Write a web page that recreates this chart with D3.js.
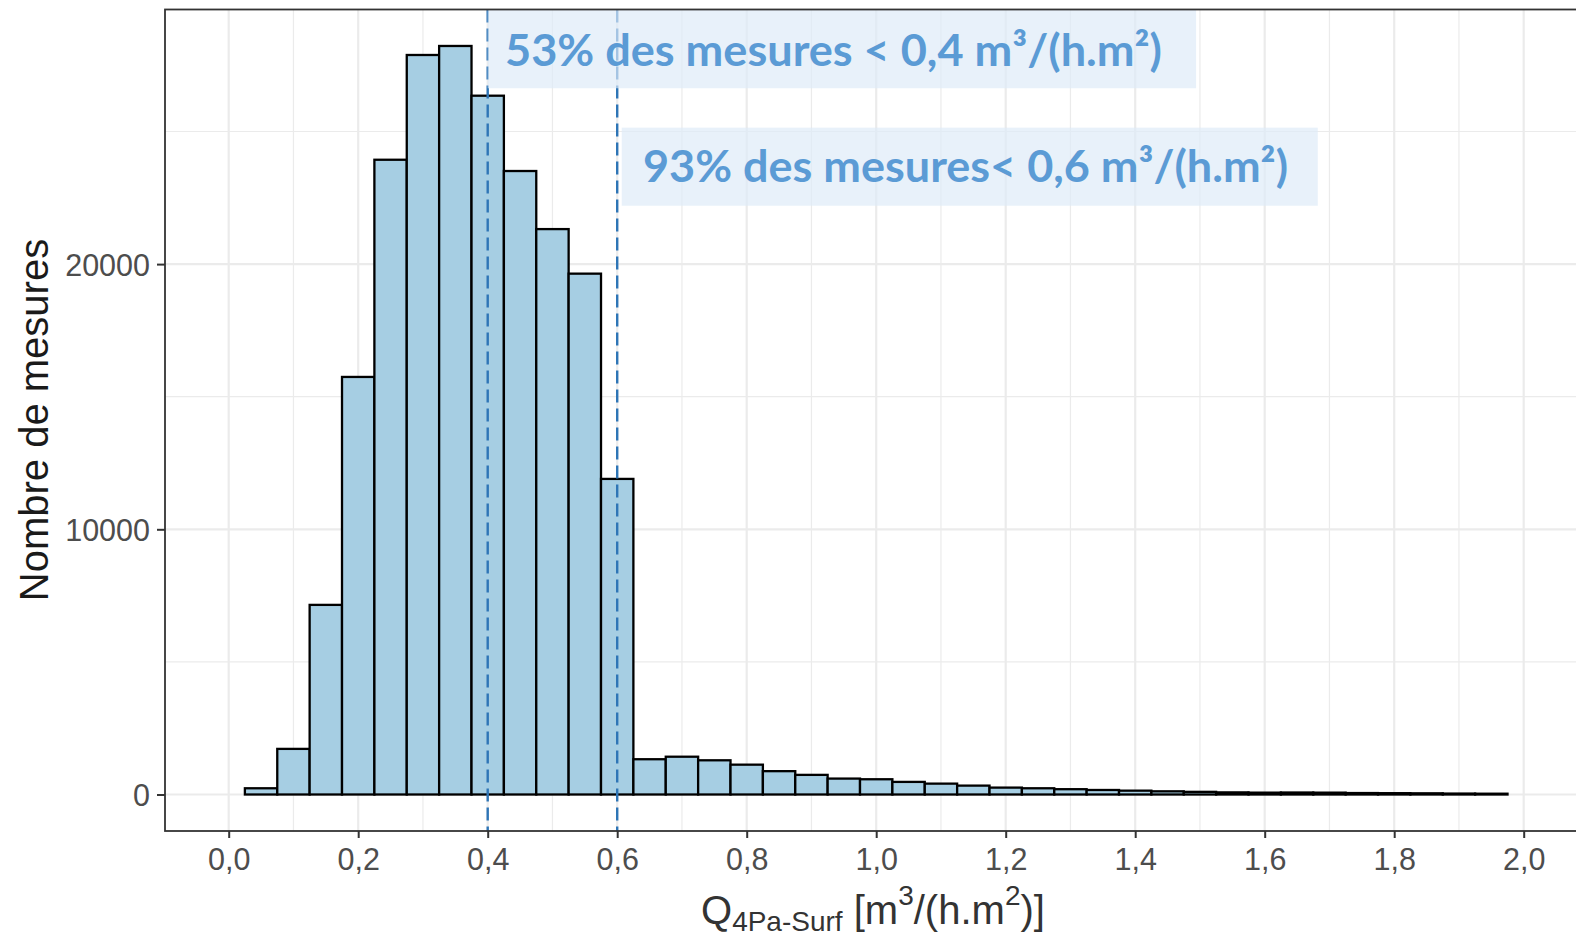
<!DOCTYPE html>
<html>
<head>
<meta charset="utf-8">
<script src="https://cdn.jsdelivr.net/npm/d3@7"></script>
<style>
  body { margin: 0; background: white; }
  svg { display: block; }
</style>
</head>
<body>
<script>
// histogram bins (width 0.05), centres and counts
const binCentres = [
  0.05, 0.1, 0.15, 0.2, 0.25, 0.3, 0.35, 0.4, 0.45, 0.5, 0.55, 0.6, 0.65,
  0.7, 0.75, 0.8, 0.85, 0.9, 0.95, 1.0, 1.05, 1.1, 1.15, 1.2, 1.25, 1.3,
  1.35, 1.4, 1.45, 1.5, 1.55, 1.6, 1.65, 1.7, 1.75, 1.8, 1.85, 1.9, 1.95,
];
const counts = [
  235, 1720, 7150, 15745, 23935, 27885, 28225, 26350, 23510, 21320, 19640,
  11900, 1330, 1425, 1290, 1125, 880, 740, 600, 575, 475, 410, 335, 260,
  235, 200, 170, 145, 120, 100, 80, 70, 75, 70, 55, 50, 45, 35, 30,
];
const binWidth = 0.05;

const xMajor = [0, 0.2, 0.4, 0.6, 0.8, 1.0, 1.2, 1.4, 1.6, 1.8, 2.0];
const xMinor = [0.1, 0.3, 0.5, 0.7, 0.9, 1.1, 1.3, 1.5, 1.7, 1.9];
const yMajor = [0, 10000, 20000];
const yMinor = [5000, 15000, 25000];

const thresholds = [0.4, 0.6];
const notes = [
  { text: '53% des mesures < 0,4 m³/(h.m²)', x0: 0.4, x1: 1.494, y0: 26630, y1: null },
  { text: '93% des mesures< 0,6 m³/(h.m²)', x0: 0.607, x1: 1.682, y0: 22200, y1: 25145 },
];

const w = 1576;
const h = 936;
const panel = { left: 165, right: 1590, top: 9.5, bottom: 831 };

const svg = d3.select('body').append('svg').attr('width', w).attr('height', h);

const x = d3.scaleLinear().domain([0, 2]).range([228.7, 1523.7]);
const y = d3.scaleLinear().domain([0, 20000]).range([794.5, 264.1]);

svg.append('defs').append('clipPath').attr('id', 'clip')
  .append('rect')
  .attr('x', panel.left).attr('y', panel.top)
  .attr('width', panel.right - panel.left)
  .attr('height', panel.bottom - panel.top);

const plot = svg.append('g').attr('clip-path', 'url(#clip)');

// grid
plot.selectAll('.xminor').data(xMinor).enter().append('line')
  .attr('x1', (d) => x(d)).attr('x2', (d) => x(d))
  .attr('y1', panel.top).attr('y2', panel.bottom)
  .attr('stroke', '#ebebeb').attr('stroke-width', 1.2);
plot.selectAll('.yminor').data(yMinor).enter().append('line')
  .attr('x1', panel.left).attr('x2', panel.right)
  .attr('y1', (d) => y(d)).attr('y2', (d) => y(d))
  .attr('stroke', '#ebebeb').attr('stroke-width', 1.2);
plot.selectAll('.xmajor').data(xMajor).enter().append('line')
  .attr('x1', (d) => x(d)).attr('x2', (d) => x(d))
  .attr('y1', panel.top).attr('y2', panel.bottom)
  .attr('stroke', '#ebebeb').attr('stroke-width', 2.2);
plot.selectAll('.ymajor').data(yMajor).enter().append('line')
  .attr('x1', panel.left).attr('x2', panel.right)
  .attr('y1', (d) => y(d)).attr('y2', (d) => y(d))
  .attr('stroke', '#ebebeb').attr('stroke-width', 2.2);

// bars
plot.selectAll('.bar').data(counts).enter().append('rect')
  .attr('class', 'bar')
  .attr('x', (d, i) => x(binCentres[i] - binWidth / 2))
  .attr('width', (d, i) => x(binCentres[i] + binWidth / 2) - x(binCentres[i] - binWidth / 2))
  .attr('y', (d) => y(d))
  .attr('height', (d) => y(0) - y(d))
  .attr('fill', '#a6cee3')
  .attr('stroke', 'black')
  .attr('stroke-width', 2.3);

// dashed thresholds
plot.selectAll('.vline').data(thresholds).enter().append('line')
  .attr('x1', (d) => x(d)).attr('x2', (d) => x(d))
  .attr('y1', panel.top).attr('y2', panel.bottom)
  .attr('stroke', '#2e75b6').attr('stroke-width', 2.4)
  .attr('stroke-dasharray', '13,6');

// annotation boxes
plot.selectAll('.note').data(notes).enter().append('rect')
  .attr('x', (d) => x(d.x0))
  .attr('width', (d) => x(d.x1) - x(d.x0))
  .attr('y', (d) => (d.y1 === null ? panel.top : y(d.y1)))
  .attr('height', (d) => y(d.y0) - (d.y1 === null ? panel.top : y(d.y1)))
  .attr('fill', '#ddebf7').attr('fill-opacity', 0.68);

const noteText = [
  { x: 505, y: 65.7, len: 657 },
  { x: 643, y: 181.7, len: 645 },
];
plot.selectAll('.notetext').data(notes).enter().append('text')
  .attr('x', (d, i) => noteText[i].x)
  .attr('y', (d, i) => noteText[i].y)
  .attr('textLength', (d, i) => noteText[i].len)
  .attr('lengthAdjust', 'spacingAndGlyphs')
  .style('font-family', 'Lato, "Open Sans", sans-serif')
  .style('font-weight', 'bold')
  .style('font-size', '44px')
  .attr('fill', '#5b9bd5')
  .text((d) => d.text);

// panel border
svg.append('rect')
  .attr('x', panel.left).attr('y', panel.top)
  .attr('width', panel.right - panel.left)
  .attr('height', panel.bottom - panel.top)
  .attr('fill', 'none').attr('stroke', '#333333').attr('stroke-width', 1.8);

// axes
const fmt = (d) => d3.format('.1f')(d).replace('.', ',');
const xAxis = svg.append('g')
  .attr('transform', `translate(0,${panel.bottom})`)
  .call(d3.axisBottom(x).tickValues(xMajor).tickFormat(fmt).tickSize(7).tickSizeOuter(0).tickPadding(10));
const yAxis = svg.append('g')
  .attr('transform', `translate(${panel.left},0)`)
  .call(d3.axisLeft(y).tickValues(yMajor).tickFormat(d3.format('d')).tickSize(8).tickSizeOuter(0).tickPadding(7));

[xAxis, yAxis].forEach((a) => {
  a.select('.domain').remove();
  a.selectAll('.tick line').attr('stroke', '#333333').attr('stroke-width', 2);
  a.selectAll('.tick text')
    .attr('fill', '#4d4d4d')
    .style('font-family', 'Arial, "Liberation Sans", sans-serif')
    .style('font-size', '30.5px');
});
xAxis.selectAll('.tick text').attr('dy', null).attr('y', 39);
yAxis.selectAll('.tick text').attr('dy', '0.36em');

// axis titles
svg.append('text')
  .attr('transform', 'translate(48,420) rotate(-90)')
  .attr('text-anchor', 'middle')
  .style('font-family', 'Arial, "Liberation Sans", sans-serif')
  .style('font-size', '40px')
  .attr('fill', '#1a1a1a')
  .text('Nombre de mesures');

const xt = svg.append('text')
  .attr('x', 701).attr('y', 924)
  .style('font-family', 'Arial, "Liberation Sans", sans-serif')
  .style('font-size', '40px')
  .attr('fill', '#333333');
xt.append('tspan').text('Q');
xt.append('tspan').attr('dy', 7).style('font-size', '28px').text('4Pa-Surf');
xt.append('tspan').attr('dy', -7).text(' [m');
xt.append('tspan').attr('dy', -19).style('font-size', '28px').text('3');
xt.append('tspan').attr('dy', 19).text('/(h.m');
xt.append('tspan').attr('dy', -19).style('font-size', '28px').text('2');
xt.append('tspan').attr('dy', 19).text(')]');
</script>
</body>
</html>
